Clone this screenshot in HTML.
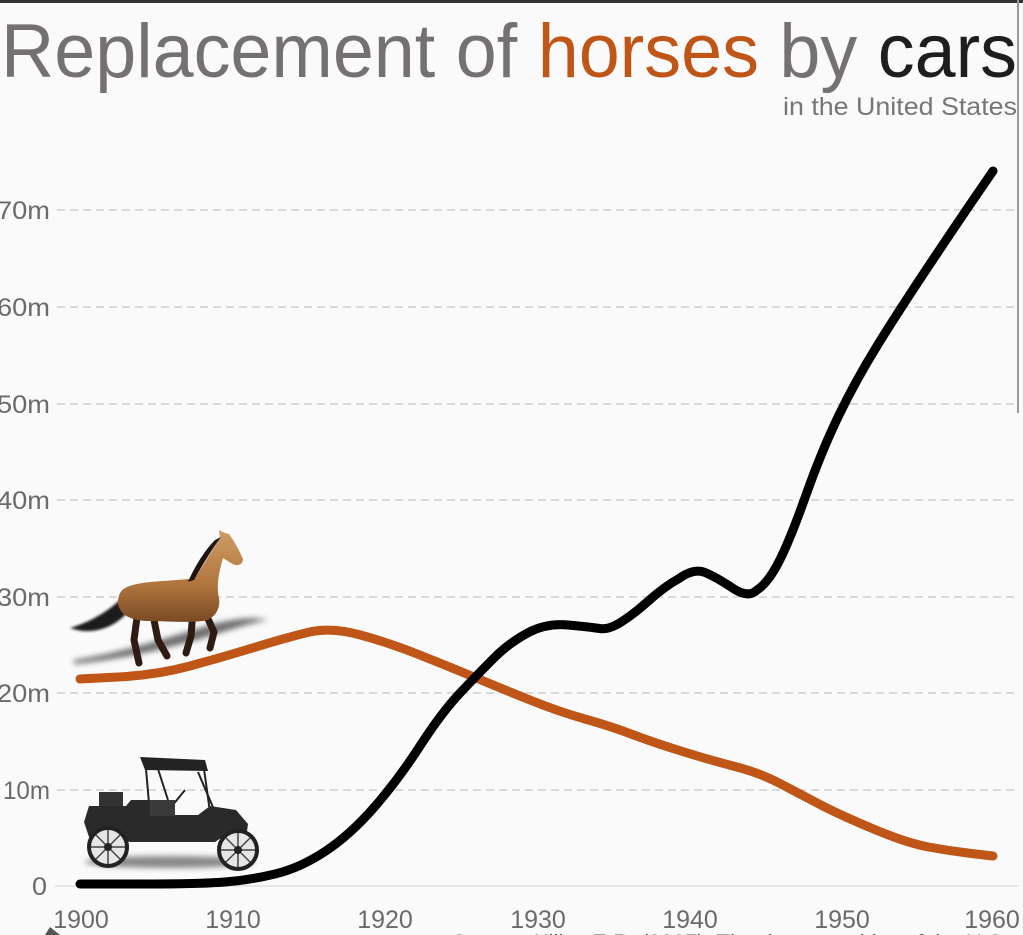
<!DOCTYPE html>
<html><head><meta charset="utf-8"><style>
html,body{margin:0;padding:0;background:#fafafa;}
svg{display:block;}
</style></head><body>
<svg width="1023" height="935" viewBox="0 0 1023 935" xmlns="http://www.w3.org/2000/svg" font-family="Liberation Sans, Arial, sans-serif">
<defs>
<filter id="b3" x="-20%" y="-50%" width="140%" height="200%"><feGaussianBlur stdDeviation="3"/></filter>
<filter id="b1" x="-20%" y="-50%" width="140%" height="200%"><feGaussianBlur stdDeviation="1.2"/></filter>
<linearGradient id="hb" x1="0" y1="0" x2="0" y2="1">
<stop offset="0" stop-color="#cf9c66"/><stop offset="0.6" stop-color="#b0753d"/><stop offset="1" stop-color="#7a4a25"/>
</linearGradient>
</defs>
<rect width="1023" height="935" fill="#fafafa"/>
<rect x="0" y="0" width="1023" height="3" fill="#333"/>
<line x1="1018" y1="0" x2="1018" y2="413" stroke="#9a9a9a" stroke-width="2"/>

<!-- title -->
<text x="1" y="77" font-size="76" textLength="1016" lengthAdjust="spacingAndGlyphs"><tspan fill="#767171">Replacement of </tspan><tspan fill="#bf5516">horses</tspan><tspan fill="#767171"> by </tspan><tspan fill="#1e1e1e">cars</tspan></text>
<text x="783" y="115" font-size="25" fill="#767676" textLength="234" lengthAdjust="spacingAndGlyphs">in the United States</text>

<!-- grid -->
<g stroke="#d9d9d9" stroke-width="2" stroke-dasharray="8 5">
<line x1="57" y1="210" x2="1018" y2="210"/>
<line x1="57" y1="307" x2="1018" y2="307"/>
<line x1="57" y1="404" x2="1018" y2="404"/>
<line x1="57" y1="500" x2="1018" y2="500"/>
<line x1="57" y1="597" x2="1018" y2="597"/>
<line x1="57" y1="693" x2="1018" y2="693"/>
<line x1="57" y1="790" x2="1018" y2="790"/>
</g>
<line x1="55" y1="886" x2="1018" y2="886" stroke="#dedede" stroke-width="1.5"/>

<g font-size="25" fill="#6a6a6a">
<text x="-3" y="219" textLength="53" lengthAdjust="spacingAndGlyphs">70m</text>
<text x="-3" y="316" textLength="53" lengthAdjust="spacingAndGlyphs">60m</text>
<text x="-3" y="413" textLength="53" lengthAdjust="spacingAndGlyphs">50m</text>
<text x="-3" y="509" textLength="53" lengthAdjust="spacingAndGlyphs">40m</text>
<text x="-3" y="606" textLength="53" lengthAdjust="spacingAndGlyphs">30m</text>
<text x="-3" y="702" textLength="53" lengthAdjust="spacingAndGlyphs">20m</text>
<text x="3" y="799" textLength="47" lengthAdjust="spacingAndGlyphs">10m</text>
<text x="32" y="895" textLength="15" lengthAdjust="spacingAndGlyphs">0</text>
</g>

<g font-size="25" fill="#6a6a6a" text-anchor="middle">
<text x="81" y="928">1900</text>
<text x="233" y="928">1910</text>
<text x="385" y="928">1920</text>
<text x="538" y="928">1930</text>
<text x="690" y="928">1940</text>
<text x="842" y="928">1950</text>
<text x="992" y="928">1960</text>
</g>
<text x="452" y="950" font-size="22" fill="#555">Source: Kilby, E.R. (2007). The demographics of the U.S. equine population</text>
<polygon points="45,935 50,927 60,935" fill="#555"/>

<!-- horse shadow -->
<path d="M74,664 C120,660 170,648 210,636 C235,628 255,622 268,620 C250,616 225,620 200,628 C160,640 115,654 74,660 Z" fill="#555" opacity="0.85" filter="url(#b3)"/>
<!-- horse tail -->
<path d="M124,596 C112,608 96,620 70,628 C92,636 114,628 128,612 Z" fill="#1a1a1a" filter="url(#b1)"/>
<!-- horse legs -->
<g stroke="#2e1c12" stroke-width="7" fill="none" stroke-linecap="round" stroke-linejoin="round">
<path d="M138,610 L134,640 L139,663"/>
<path d="M152,610 L158,640 L167,656"/>
<path d="M203,608 L214,632 L210,648"/>
<path d="M193,610 L191,636 L186,653"/>
</g>
<!-- horse body -->
<path d="M125,588 C140,580 170,582 195,578 C203,566 212,550 220,538 L219,530 L225,533 L229,534 C235,542 240,552 243,559 C243,565 237,567 231,563 L223,558 C219,572 216,586 219,598 C221,610 213,620 203,621 C185,623 165,621 148,621 C132,621 119,615 118,603 C118,596 120,591 125,588 Z" fill="url(#hb)"/>
<path d="M194,580 C203,564 212,549 221,537 L215,540 C205,550 195,566 188,582 Z" fill="#1f140d"/>

<!-- car shadow -->
<ellipse cx="170" cy="862" rx="85" ry="6" fill="#888" filter="url(#b3)"/>
<!-- car -->
<g stroke="#222" fill="none" stroke-width="2">
<line x1="146" y1="769" x2="150" y2="815"/>
<line x1="204" y1="769" x2="210" y2="812"/>
<line x1="158" y1="769" x2="168" y2="800"/>
<line x1="198" y1="772" x2="215" y2="812"/>
<line x1="172" y1="806" x2="185" y2="790"/>
</g>
<polygon points="140,757 205,760 208,771 145,770" fill="#232323"/>
<rect x="99" y="792" width="24" height="20" fill="#333"/>
<path d="M84,822 L89,806 L126,806 L131,800 L152,800 L156,815 L198,815 L210,806 L236,810 L248,824 L246,838 L224,836 L215,842 L130,842 L118,838 L90,840 Z" fill="#2a2a2a"/>
<rect x="150" y="800" width="25" height="16" fill="#3a3a3a"/>
<g stroke="#222" stroke-width="4" fill="#e6e6e6">
<circle cx="108" cy="847" r="19"/>
<circle cx="238" cy="850" r="19"/>
</g>
<g stroke="#444" stroke-width="1.5">
<line x1="108" y1="830" x2="108" y2="864"/><line x1="91" y1="847" x2="125" y2="847"/>
<line x1="96" y1="835" x2="120" y2="859"/><line x1="120" y1="835" x2="96" y2="859"/>
<line x1="238" y1="833" x2="238" y2="867"/><line x1="221" y1="850" x2="255" y2="850"/>
<line x1="226" y1="838" x2="250" y2="862"/><line x1="250" y1="838" x2="226" y2="862"/>
</g>
<circle cx="108" cy="847" r="4" fill="#222"/>
<circle cx="238" cy="850" r="4" fill="#222"/>

<!-- series -->
<path fill="none" stroke="#bf5516" stroke-width="9" stroke-linecap="round" stroke-linejoin="round" d="M80,679 L118,677 Q156,675 188,666.5 Q220,658 252.5,648 Q285,638 307.5,632.5 Q330,627 358.5,634.5 Q387,642 418.5,654.5 Q450,667 477.5,678.5 Q505,690 532.5,701 Q560,712 585,719 Q610,726 632.5,734.5 Q655,743 682.5,751.5 Q710,760 735,766.5 Q760,773 779,783 Q798,793 819,804 Q840,815 873.5,829 Q907,843 928.5,847 Q950,851 971.5,853.5 L993,856"/>
<path fill="none" stroke="#000" stroke-width="9" stroke-linecap="round" stroke-linejoin="round" d="M80,884 L140,884 Q200,884 225,882 Q250,880 275,874 Q300,868 325,851.5 Q350,835 374,807.5 Q398,780 420,746 Q442,712 460.5,692.5 Q479,673 494,658 Q509,643 527.5,633 Q546,623 568,625 Q590,627 599.5,628.5 Q609,630 622,621.5 Q635,613 649.5,600 Q664,587 679,578.5 Q694,568 705,572.5 Q716,577 731,587 Q748,599 757,590 Q768,583 779,561.5 Q790,540 806,495 Q822,450 839,415 Q856,380 877,346 Q898,312 928,267 Q958,222 975.5,196.5 L993,171"/>
</svg>
</body></html>
